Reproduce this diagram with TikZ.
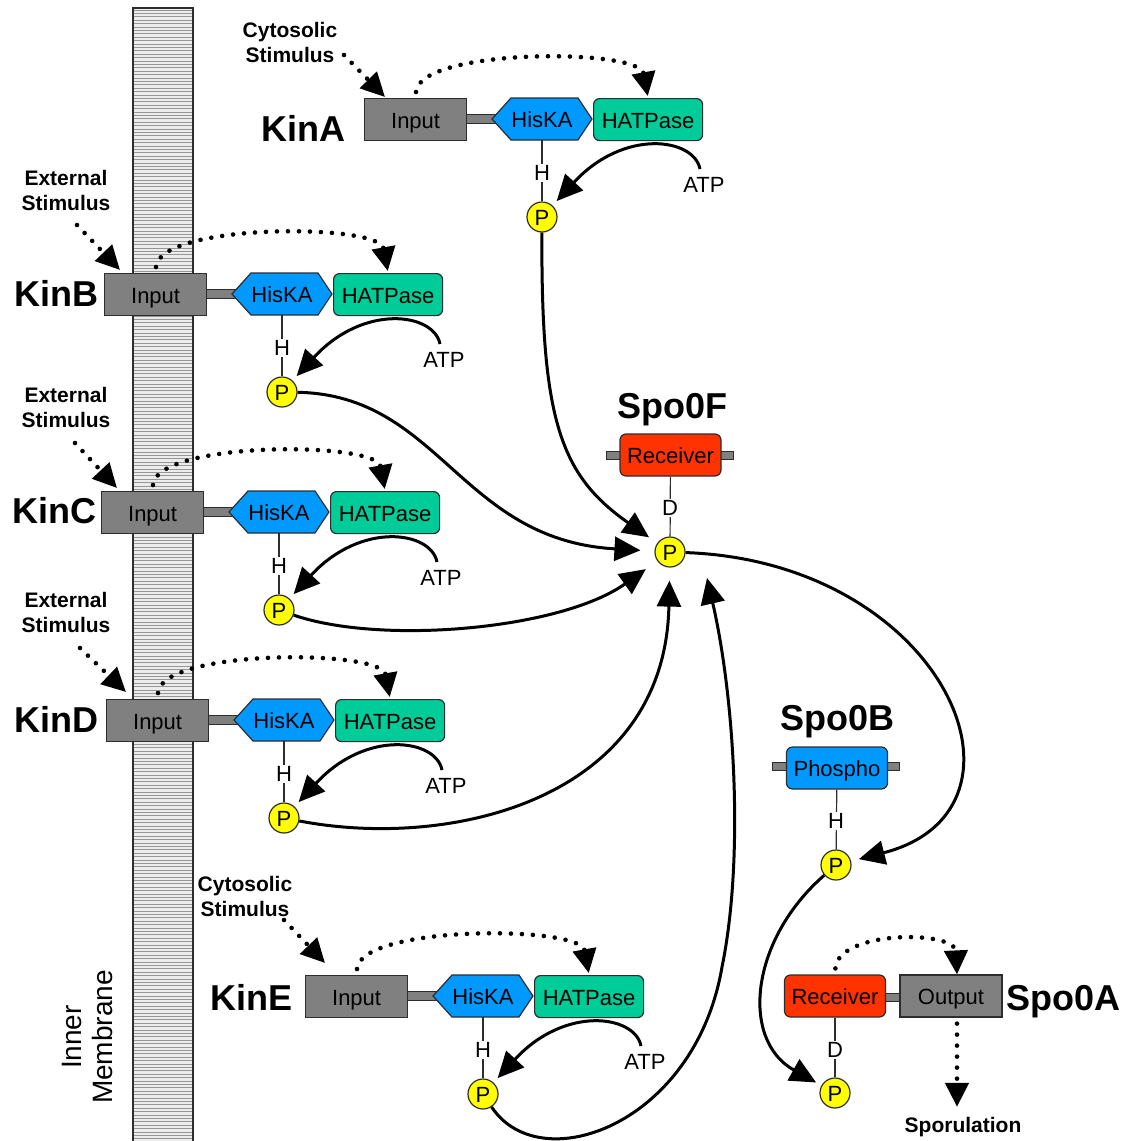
\documentclass[tikz,border=0pt]{standalone}
\usepackage{fontspec}
\setmainfont{Liberation Sans}
\usetikzlibrary{arrows.meta,calc}

\definecolor{inputgray}{RGB}{128,128,128}
\definecolor{hisblue}{RGB}{0,153,255}
\definecolor{hatgreen}{RGB}{0,204,153}
\definecolor{recred}{RGB}{255,51,0}
\definecolor{pyellow}{RGB}{255,255,0}
\definecolor{edge}{RGB}{45,45,45}
\definecolor{membfill}{RGB}{236,236,236}
\definecolor{membline}{RGB}{150,150,150}

\newcommand{\boxfont}{\fontsize{11}{12.5}\selectfont}
\newcommand{\bigfont}{\fontsize{18}{20}\selectfont\bfseries}

\tikzset{
  box/.style={draw=edge, line width=0.6pt, minimum height=21pt, inner sep=0pt,
    text height=8.5pt, text depth=0pt, font=\boxfont},
  inputbox/.style={box, fill=inputgray, minimum width=51pt},
  hatbox/.style={box, fill=hatgreen, rounded corners=3pt, minimum width=54.5pt},
  recbox/.style={box, fill=recred, rounded corners=3pt, minimum width=50.5pt},
  phobox/.style={box, fill=hisblue, rounded corners=3pt, minimum width=50.5pt},
  hexlabel/.style={inner sep=0pt, minimum width=49.5pt, minimum height=21pt,
    text height=8.5pt, text depth=0pt, font=\boxfont},
  hexshape/.style={draw=edge, fill=hisblue, line width=0.6pt},
  linker/.style={draw=edge, fill=inputgray, line width=0.5pt},
  pcirc/.style={circle, draw=edge, fill=pyellow, line width=0.6pt, minimum size=15pt,
    inner sep=0pt, text height=8pt, text depth=0pt, font=\boxfont},
  reslabel/.style={fill=white, inner sep=0.6pt, font=\boxfont},
  stem/.style={draw=edge, line width=0.6pt},
  atplabel/.style={inner sep=1pt, font=\boxfont},
  flow/.style={line width=1.5pt, -{Triangle[length=13pt,width=12pt]}},
  cue/.style={line width=2.3pt, line cap=round, dash pattern=on 0pt off 5.5pt,
    -{Triangle[length=12pt,width=11.5pt]}},
  protname/.style={inner sep=0pt, font=\bigfont},
  stimtext/.style={inner sep=0pt, font=\fontsize{10.5}{12.5}\selectfont\bfseries, align=center},
}

% One sensor histidine kinase: Input, HisKA, HATPase, phospho-His and ATP loop
\newcommand{\hkdomain}[3]{%
  \begin{scope}[shift={(#2,#3)}]
    \draw[linker] (98,16) rectangle (134,25);
    \node[inputbox, anchor=north west] (in#1) at (0,0) {Input};
    \draw[hexshape] (128,21) -- (147,0) -- (214,0) -- (228,21) -- (214,42) -- (147,42) -- cycle;
    \node[hexlabel] (hk#1) at (178,21) {HisKA};
    \node[hatbox, anchor=north west] (hat#1) at (229,0) {HATPase};
    \node[pcirc] (p#1) at (178,119) {P};
    \draw[stem] (hk#1.south) -- (p#1);
    \node[reslabel] (h#1) at (178,75) {H};
    \node[atplabel] (atp#1) at (340,87) {ATP};
    \draw[flow, shorten >=3pt] ([xshift=-2pt,yshift=3pt]atp#1.north) .. controls (330,40) and (260,30) .. (p#1);
    \draw[cue, shorten <=3pt, shorten >=1pt] (in#1.north) .. controls (55,-50) and (275,-50) .. (hat#1.north);
  \end{scope}}

\begin{document}
\begin{tikzpicture}[x=0.5pt, y=-0.5pt]
  \useasboundingbox (0,0) rectangle (1135,1141);

  % inner membrane
  \fill[membfill] (133,8) rectangle (193,1141);
  \foreach \yy in {10,13.4,...,1140}
    \draw[membline, line width=0.35pt] (133,\yy) -- (193,\yy);
  \draw[edge, line width=0.6pt] (133,1141) -- (133,8) -- (193,8) -- (193,1141);
  \node[rotate=90, align=center, font=\fontsize{14}{15.5}\selectfont] (memb) at (88,1037) {Inner\\Membrane};

  % kinases
  \hkdomain{A}{364}{98}
  \hkdomain{B}{104}{273}
  \hkdomain{C}{101}{491}
  \hkdomain{D}{106}{699}
  \hkdomain{E}{305}{975}

  \node[protname, anchor=east] (nameA) at (346,128) {KinA};
  \node[protname, anchor=east] (nameB) at (99,293) {KinB};
  \node[protname, anchor=east] (nameC) at (97,511) {KinC};
  \node[protname, anchor=east] (nameD) at (99,719) {KinD};
  \node[protname, anchor=east] (nameE) at (293,997) {KinE};

  % stimuli
  \node[stimtext] (lblA) at (290,42) {Cytosolic\\Stimulus};
  \node[stimtext] (lblB) at (66,190) {External\\Stimulus};
  \node[stimtext] (lblC) at (66,407) {External\\Stimulus};
  \node[stimtext] (lblD) at (66,612) {External\\Stimulus};
  \node[stimtext] (lblE) at (245,896) {Cytosolic\\Stimulus};

  \draw[cue] ([shift={(54,13)}]lblA.center) -- ([shift={(21,-1)}]inA.north west);
  \draw[cue] ([shift={(11,35)}]lblB.center) -- ([shift={(16,-3)}]inB.north west);
  \draw[cue] ([shift={(9,36)}]lblC.center) -- ([shift={(16,-3)}]inC.north west);
  \draw[cue] ([shift={(14,36)}]lblD.center) -- ([shift={(20,-7)}]inD.north west);
  \draw[cue] ([shift={(39,24)}]lblE.center) -- ([shift={(20,-12)}]inE.north west);

  % Spo0F
  \draw[linker] (606,451) rectangle (733,459);
  \node[recbox] (recF) at (670.5,455) {Receiver};
  \node[pcirc] (pF) at (670,552) {P};
  \draw[stem] (recF) -- (pF);
  \node[reslabel] (dF) at (670,508) {D};
  \node[protname, anchor=base] (nameF) at (672,418) {Spo0F};

  % Spo0B
  \draw[linker] (772,762) rectangle (899,770);
  \node[phobox] (phoB) at (837,768) {Phospho};
  \node[pcirc] (pB0) at (836,865) {P};
  \draw[stem] (phoB) -- (pB0);
  \node[reslabel] (hB0) at (836,821) {H};
  \node[protname, anchor=base] (nameB0) at (837,730) {Spo0B};

  % Spo0A
  \draw[linker] (884,993) rectangle (902,1001);
  \node[recbox] (recA) at (835,996) {Receiver};
  \node[inputbox] (outA) at (951,996) {Output};
  \node[pcirc] (pA0) at (835,1093) {P};
  \draw[stem] (recA) -- (pA0);
  \node[reslabel] (dA0) at (835,1050) {D};
  \node[protname, anchor=base west] (nameA0) at (1006,1010) {Spo0A};
  \node[stimtext] (spor) at (963,1127) {Sporulation};
  \draw[cue, shorten <=3pt] (recA.north) .. controls (838,930) and (955,930) .. ([xshift=3pt]outA.north);
  \draw[cue, shorten <=3pt] ([xshift=3pt]outA.south) -- ([xshift=-3pt,yshift=5pt]spor.north);

  % phosphorelay
  \draw[flow, shorten >=5pt] (pA) .. controls (541,420) and (560,475) .. (pF);
  \draw[flow, shorten >=7pt] (pB) .. controls (440,395) and (460,540) .. (pF);
  \draw[flow, shorten >=7pt] (pC) .. controls (380,645) and (560,630) .. (pF);
  \draw[flow, shorten >=6.5pt] (pD) .. controls (450,850) and (665,800) .. (pF);
  \draw[flow] (pE) .. controls (540,1180) and (695,1125) .. (722,967)
    .. controls (744,860) and (735,700) .. ([shift={(37,26)}]pF.center);
  \draw[flow, shorten >=4pt] (pF) .. controls (945,562) and (1050,810) .. (pB0);
  \draw[flow, shorten >=3pt] (pB0) .. controls (750,940) and (740,1040) .. (pA0);
\end{tikzpicture}
\end{document}
